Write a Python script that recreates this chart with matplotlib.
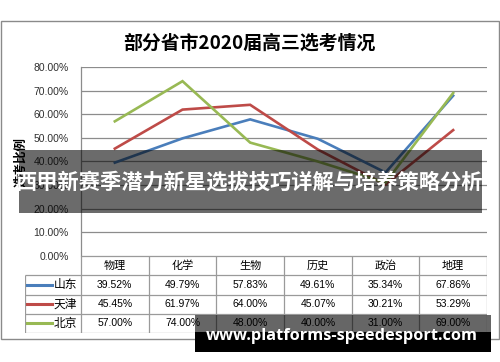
#!/usr/bin/env python3

import matplotlib
matplotlib.use("Agg")
import matplotlib.pyplot as plt
from matplotlib.patches import Rectangle

subjects = ["物理", "化学", "生物", "历史", "政治", "地理"]
regions = ["山东", "天津", "北京"]
shandong = [39.52, 49.79, 57.83, 49.61, 35.34, 67.86]
tianjin = [45.45, 61.97, 64.00, 45.07, 30.21, 53.29]
beijing = [57.00, 74.00, 48.00, 40.00, 31.00, 69.00]
colors = ["#4a7ebb", "#be4b48", "#98b954"]
yticks = [0, 10, 20, 30, 40, 50, 60, 70, 80]

title = "部分省市2020届高三选考情况"
ylabel = "选考比例"
banner = "西甲新赛季潜力新星选拔技巧详解与培养策略分析"
site = "www.platforms-speedesport.com"

W, H = 500, 362
CJK = ["Noto Sans CJK SC", "DejaVu Sans"]
NUM = ["Liberation Sans", "Noto Sans CJK SC"]
GRID = "#8c8c8c"


def rect(l, t, r, b):
    # pixel box -> figure fraction
    return [l / W, 1 - b / H, (r - l) / W, (b - t) / H]


def main():
    fig = plt.figure(figsize=(W / 100, H / 100), dpi=100)
    fig.patch.set_facecolor("white")

    # outer chart frame
    fig.add_artist(Rectangle((0.5 / W, 1 - 339 / H), 498.5 / W, 318 / H,
                             transform=fig.transFigure, fill=False,
                             edgecolor="#8a8a8a", lw=1, zorder=-1))

    fig.text(249 / W, 1 - 43 / H, title, ha="center", va="center",
             fontsize=13.6, fontweight="bold", family=CJK)

    # line chart
    ax = fig.add_axes(rect(81, 67, 487, 256))
    xs = range(len(subjects))
    for vals, c in zip([shandong, tianjin, beijing], colors):
        ax.plot(xs, vals, color=c, lw=1.9, solid_joinstyle="miter", zorder=3)
    ax.set_xlim(-0.5, len(subjects) - 0.5)
    ax.set_ylim(0, 80)
    ax.set_yticks(yticks)
    ax.set_yticklabels(["%.2f%%" % v for v in yticks], family=NUM,
                       fontsize=7.5, color="#303030")
    ax.set_xticks([])
    ax.tick_params(axis="y", length=0, pad=9)
    ax.grid(axis="y", color=GRID, lw=0.9)
    for s in ["top", "right", "bottom"]:
        ax.spines[s].set_visible(False)
    ax.spines["left"].set_color(GRID)
    ax.spines["left"].set_linewidth(0.9)

    fig.text(21 / W, 1 - 162 / H, ylabel, rotation=90, ha="center",
             va="center", fontsize=9, fontweight="bold", family=CJK)

    # data table below the plot
    tax = fig.add_axes(rect(25, 256, 487, 333))
    lab_w = 56 / (406 / len(subjects))
    x0 = -0.5 - lab_w
    tax.set_xlim(x0, len(subjects) - 0.5)
    tax.set_ylim(len(regions) + 1, 0)
    tax.axis("off")
    tc = "#9a9a9a"
    tax.hlines(0, -0.5, len(subjects) - 0.5, color=tc, lw=0.9)
    tax.hlines(range(1, len(regions) + 2), x0, len(subjects) - 0.5,
               color=tc, lw=0.9)
    tax.vlines(x0, 1, len(regions) + 1, color=tc, lw=0.9)
    tax.vlines([k - 0.5 for k in range(len(subjects) + 1)], 0,
               len(regions) + 1, color=tc, lw=0.9)
    for j, s in enumerate(subjects):
        tax.text(j, 0.5, s, ha="center", va="center", fontsize=8, family=CJK)
    for i, (name, vals, c) in enumerate(zip(regions, [shandong, tianjin, beijing], colors)):
        y = i + 1.5
        tax.plot([x0 + 0.03, x0 + 0.4], [y, y], color=c, lw=2.2)
        tax.text(x0 + 0.42, y, name, ha="left", va="center", fontsize=8.5,
                 family=CJK)
        for j, v in enumerate(vals):
            tax.text(j, y, "%.2f%%" % v, ha="center", va="center",
                     fontsize=7.5, family=NUM)

    # banner overlay
    fig.add_artist(Rectangle((19 / W, 1 - 213 / H), 463 / W, 63 / H,
                             transform=fig.transFigure, color="black",
                             alpha=0.58, lw=0, zorder=5))
    fig.text(250 / W, 1 - 182 / H, banner, ha="center", va="center",
             fontsize=15.3, fontweight="bold", color="white", family=CJK,
             zorder=6)

    # site watermark
    fig.add_artist(Rectangle((195 / W, 1 - 332 / H), 296 / W, 17 / H,
                             transform=fig.transFigure, color="black",
                             alpha=0.6, lw=0, zorder=5))
    fig.add_artist(Rectangle((195 / W, 1 - 352 / H), 296 / W, 20 / H,
                             transform=fig.transFigure, color="black",
                             lw=0, zorder=5))
    fig.text(342 / W, 1 - 336 / H, site, ha="center", va="center",
             fontsize=11.8, fontweight="bold", color="white",
             family=["Open Sans", "DejaVu Sans"], zorder=6)

    fig.savefig("out.png", dpi=100, format="png")
    plt.close()


if __name__ == '__main__':
    main()
